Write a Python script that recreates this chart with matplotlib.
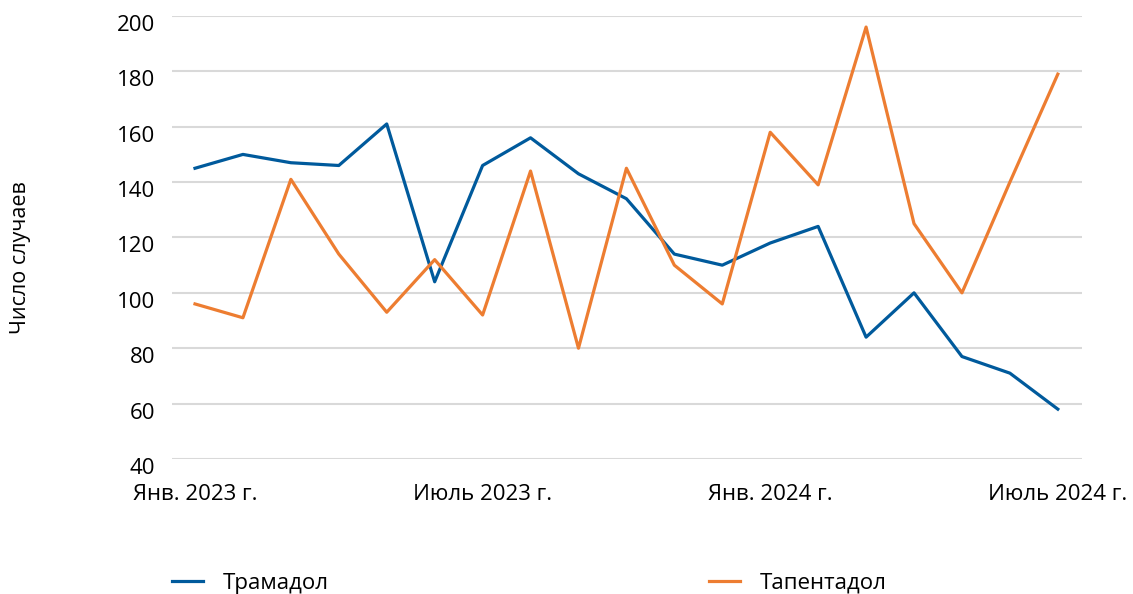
import matplotlib
matplotlib.use("Agg")
import matplotlib.pyplot as plt
import matplotlib.transforms as mtransforms

matplotlib.rcParams.update({'font.family': ['Open Sans', 'DejaVu Sans'], 'font.size': 16})

months = list(range(19))
tick_pos = [0, 6, 12, 18]
tick_labels = ["Янв. 2023 г.", "Июль 2023 г.", "Янв. 2024 г.", "Июль 2024 г."]

tramadol = [145, 150, 147, 146, 161, 104, 146, 156, 143, 134,
            114, 110, 118, 124, 84, 100, 77, 71, 58]
tapentadol = [96, 91, 141, 114, 93, 112, 92, 144, 80, 145,
              110, 96, 158, 139, 196, 125, 100, 140, 179]

fig = plt.figure(figsize=(11.33, 5.94), dpi=100)
ax = fig.add_axes([0.1518, 0.2273, 0.803, 0.7458])

ax.plot(months, tramadol, color="#005a9c", lw=2.3, label="Трамадол")
ax.plot(months, tapentadol, color="#ed7d31", lw=2.3, label="Тапентадол")

ax.set_xlim(-0.48, 18.5)
ax.set_ylim(40, 200)
ax.set_yticks(range(40, 201, 20))
ax.set_xticks(tick_pos)
ax.set_xticklabels(tick_labels)
ax.grid(axis="y", color="#d9d9d9", lw=1.5)
ax.set_axisbelow(True)
for s in ax.spines.values():
    s.set_visible(False)
ax.tick_params(length=0)
ax.tick_params(axis="x", pad=18)
ax.tick_params(axis="y", pad=12)

# y labels sit a little below their gridline
offset = mtransforms.ScaledTranslation(0, -7 / 100, fig.dpi_scale_trans)
for lbl in ax.get_yticklabels():
    lbl.set_transform(lbl.get_transform() + offset)

fig.text(0.018, 0.566, "Число случаев", rotation=90, ha="center", va="center",
         fontsize=15.5)

fig.legend(loc="center", bbox_to_anchor=(0.467, 0.018), ncol=2, frameon=False,
           columnspacing=17.1, handlelength=1.4, handletextpad=0.9)

plt.savefig("out.png", dpi=100)
